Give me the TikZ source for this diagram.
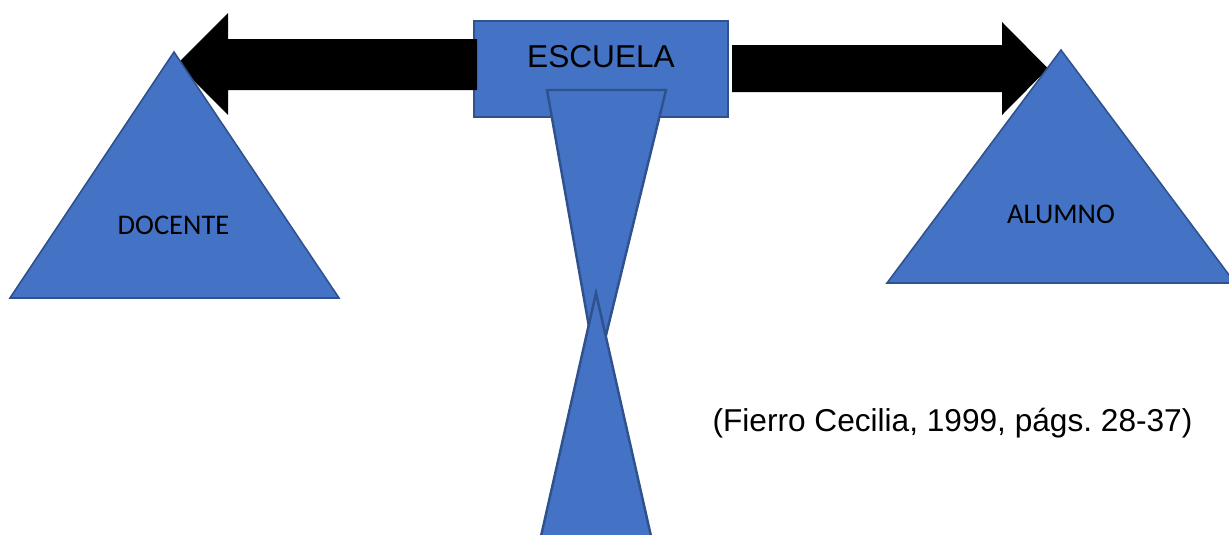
\documentclass[tikz,border=0pt]{standalone}
\usepackage{fontspec}
\setmainfont{Liberation Sans}
\newfontfamily\calibri{Carlito}
\usepackage{tikz}
\usetikzlibrary{calc}
\definecolor{azul}{HTML}{4472C4}
\definecolor{borde}{HTML}{2F528F}
\tikzset{pieza/.style={fill=azul, draw=borde, line width=0.9pt, line join=miter}}
\newcommand{\tri}[6]{ \filldraw[pieza] ( #1 , #2 ) -- ( #3 , #4 ) -- ( #5 , #6 ) -- cycle;}
\newcommand{\triB}[6]{ \filldraw[pieza, line width=1.4pt] ( #1 , #2 ) -- ( #3 , #4 ) -- ( #5 , #6 ) -- cycle;}
\newcommand{\flecha}[7]{ \fill[black] ( #1 , #2 ) -- ( #3 , #4 ) -- ( #3 , #5 ) -- ( #6 , #5 ) -- ( #6 , #7 ) -- ( #3 , #7 ) -- ( #3 , 2 * #2 - #4 ) -- cycle;}
\frenchspacing

\begin{document}
\begin{tikzpicture}[x=0.02cm, y=-0.02cm]
        \useasboundingbox (0,0) rectangle (1229,534);
        \begin{scope}
        \clip (0,0) rectangle (1229,534);
        % escuela
        \filldraw[pieza] (474,21) rectangle (728,117);
        % flechas
        \flecha{177}{64}{228}{13}{39}{477}{90}
        \flecha{1048}{68.5}{1002}{22}{45}{732}{92}
        % triangulos
        \tri{174}{52}{10}{298}{339}{298}
        \tri{1061}{50}{887}{283}{1235}{283}
        \triB{547}{90}{666}{90}{597}{372}
        \triB{596}{293}{539}{545}{653}{545}
        \end{scope}
        % textos
        \node[font=\fontsize{18pt}{20pt}\selectfont, inner sep=0pt] (escuela) at (601,57) {ESCUELA};
        \node[font=\calibri\fontsize{16.2pt}{18pt}\selectfont, inner sep=0pt] (docente) at (173.5,225) {DOCENTE};
        \node[font=\calibri\fontsize{16.2pt}{18pt}\selectfont, inner sep=0pt] (alumno) at (1061,214) {ALUMNO};
        \node[font=\fontsize{18pt}{20pt}\selectfont, inner sep=0pt, anchor=base] (cita) at (952.5,431) {(Fierro Cecilia, 1999, págs. 28-37)};
\end{tikzpicture}
\end{document}
